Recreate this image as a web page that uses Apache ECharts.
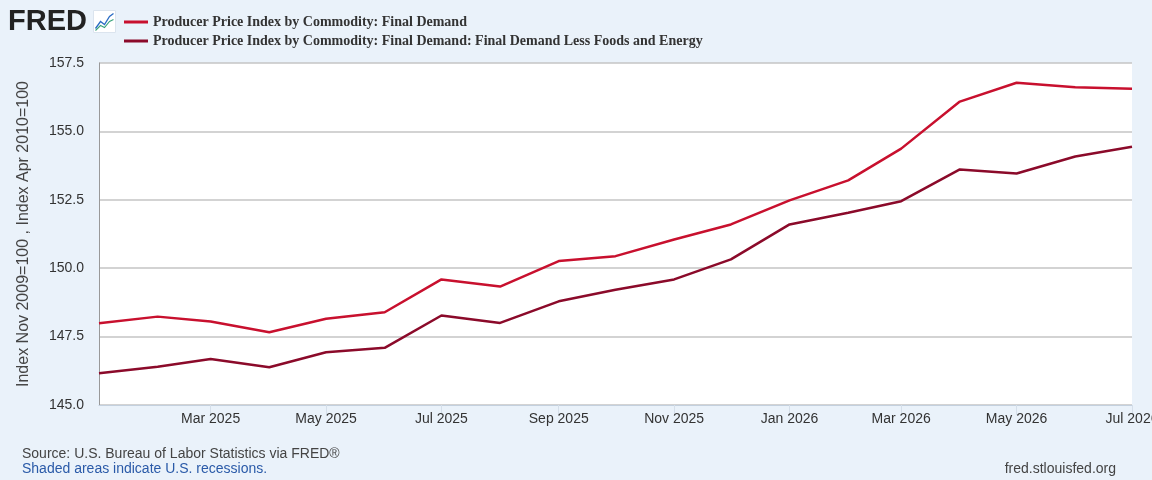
<!DOCTYPE html>
<html>
<head>
<meta charset="utf-8">
<script src="https://cdn.jsdelivr.net/npm/echarts@6/dist/echarts.min.js"></script>
<style>
  html, body { margin: 0; padding: 0; background: #eaf2fa; }
  #chart { width: 1152px; height: 480px; }
</style>
</head>
<body>
<div id="chart"></div>
<script>
// monthly observations, Jan 2025 .. Jul 2026
const months = [
  '2025-01-01', '2025-02-01', '2025-03-01', '2025-04-01', '2025-05-01', '2025-06-01',
  '2025-07-01', '2025-08-01', '2025-09-01', '2025-10-01', '2025-11-01', '2025-12-01',
  '2026-01-01', '2026-02-01', '2026-03-01', '2026-04-01', '2026-05-01', '2026-06-01',
  '2026-07-01'
];
const finalDemand = [
  147.99, 148.23, 148.05, 147.66, 148.15, 148.39,
  149.59, 149.33, 150.26, 150.44, 151.05, 151.60,
  152.48, 153.21, 154.37, 156.09, 156.78, 156.61,
  156.56
];
const lessFoodEnergy = [
  146.16, 146.40, 146.68, 146.38, 146.93, 147.09,
  148.27, 148.00, 148.79, 149.21, 149.59, 150.32,
  151.60, 152.03, 152.45, 153.61, 153.46, 154.08,
  154.44
];
const xTicks = [
  '2025-03-01', '2025-05-01', '2025-07-01', '2025-09-01', '2025-11-01',
  '2026-01-01', '2026-03-01', '2026-05-01', '2026-07-01'
];
const seriesNames = [
  'Producer Price Index by Commodity: Final Demand',
  'Producer Price Index by Commodity: Final Demand: Final Demand Less Foods and Energy'
];
const monthNames = ['Jan','Feb','Mar','Apr','May','Jun','Jul','Aug','Sep','Oct','Nov','Dec'];

const toTs = s => new Date(s + 'T00:00:00Z').getTime();
const pairs = vals => months.map((m, i) => [toTs(m), vals[i]]);

const chart = echarts.init(document.getElementById('chart'));

// x is a plain value axis in ms so the custom tick list works
chart.setOption({
  backgroundColor: '#eaf2fa',
  animation: false,
  textStyle: { fontFamily: 'Liberation Sans, Arial, sans-serif' },
  grid: {
    left: 99, right: 20, top: 63, bottom: 75,
    outerBoundsMode: 'none',
    show: true, backgroundColor: '#ffffff', borderWidth: 0
  },
  legend: {
    orient: 'vertical',
    left: 119, top: 10,
    itemWidth: 24, itemHeight: 3, itemGap: 5,
    icon: 'rect',
    textStyle: {
      fontFamily: 'Liberation Serif, Times New Roman, serif',
      fontWeight: 'bold', fontSize: 14, color: '#333'
    },
    data: seriesNames
  },
  xAxis: {
    type: 'value',
    min: toTs('2025-01-01'),
    max: toTs('2026-07-01'),
    axisLine: { show: true, lineStyle: { color: '#c3d0de', width: 1 } },
    axisTick: {
      show: true, length: 10, lineStyle: { color: '#d5dfea' },
      customValues: xTicks.map(toTs)
    },
    axisLabel: {
      color: '#333', fontSize: 14, margin: 7,
      customValues: xTicks.map(toTs),
      formatter: v => {
        const d = new Date(v);
        return monthNames[d.getUTCMonth()] + ' ' + d.getUTCFullYear();
      }
    },
    splitLine: { show: false }
  },
  yAxis: {
    type: 'value',
    min: 145, max: 157.5, interval: 2.5,
    name: 'Index Nov 2009=100 , Index Apr 2010=100',
    nameLocation: 'middle',
    nameGap: 67,
    nameTextStyle: { color: '#444', fontSize: 16 },
    axisLine: { show: true, lineStyle: { color: '#999', width: 1 } },
    axisTick: { show: false },
    axisLabel: { color: '#333', fontSize: 14, margin: 15, formatter: v => v.toFixed(1) },
    splitLine: { show: true, lineStyle: { color: '#c4c4c4', width: 1.5 } }
  },
  series: [
    {
      name: seriesNames[0], type: 'line', data: pairs(finalDemand),
      showSymbol: false, color: '#c8102e',
      lineStyle: { width: 2.5, color: '#c8102e' }
    },
    {
      name: seriesNames[1], type: 'line', data: pairs(lessFoodEnergy),
      showSymbol: false, color: '#8b0a2a',
      lineStyle: { width: 2.5, color: '#8b0a2a' }
    }
  ],
  graphic: [
    {
      type: 'text', left: 8, top: 7,
      style: { text: 'FRED', font: 'bold 29px Liberation Sans, Arial', fill: '#222' }
    },
    {
      type: 'group', left: 93, top: 10,
      children: [
        { type: 'rect', shape: { x: 0, y: 0, width: 22, height: 22 }, style: { fill: '#fff', stroke: '#dbe4ee' } },
        { type: 'polyline', shape: { points: [[2, 18], [7, 11], [11, 14], [16, 6], [20, 3]] }, style: { stroke: '#2b6cc4', lineWidth: 1.3, fill: null } },
        { type: 'polyline', shape: { points: [[2, 20], [7, 15], [11, 17], [16, 11], [20, 9]] }, style: { stroke: '#3aa37a', lineWidth: 1.1, fill: null } }
      ]
    },
    {
      type: 'text', left: 22, top: 447,
      style: { text: 'Source: U.S. Bureau of Labor Statistics via FRED\u00ae', font: '14px Liberation Sans, Arial', fill: '#444' }
    },
    {
      type: 'text', left: 22, top: 462,
      style: { text: 'Shaded areas indicate U.S. recessions.', font: '14px Liberation Sans, Arial', fill: '#2a5aa8' }
    },
    {
      type: 'text', right: 36, top: 462,
      style: { text: 'fred.stlouisfed.org', font: '14px Liberation Sans, Arial', fill: '#444' }
    }
  ]
});
</script>
</body>
</html>
